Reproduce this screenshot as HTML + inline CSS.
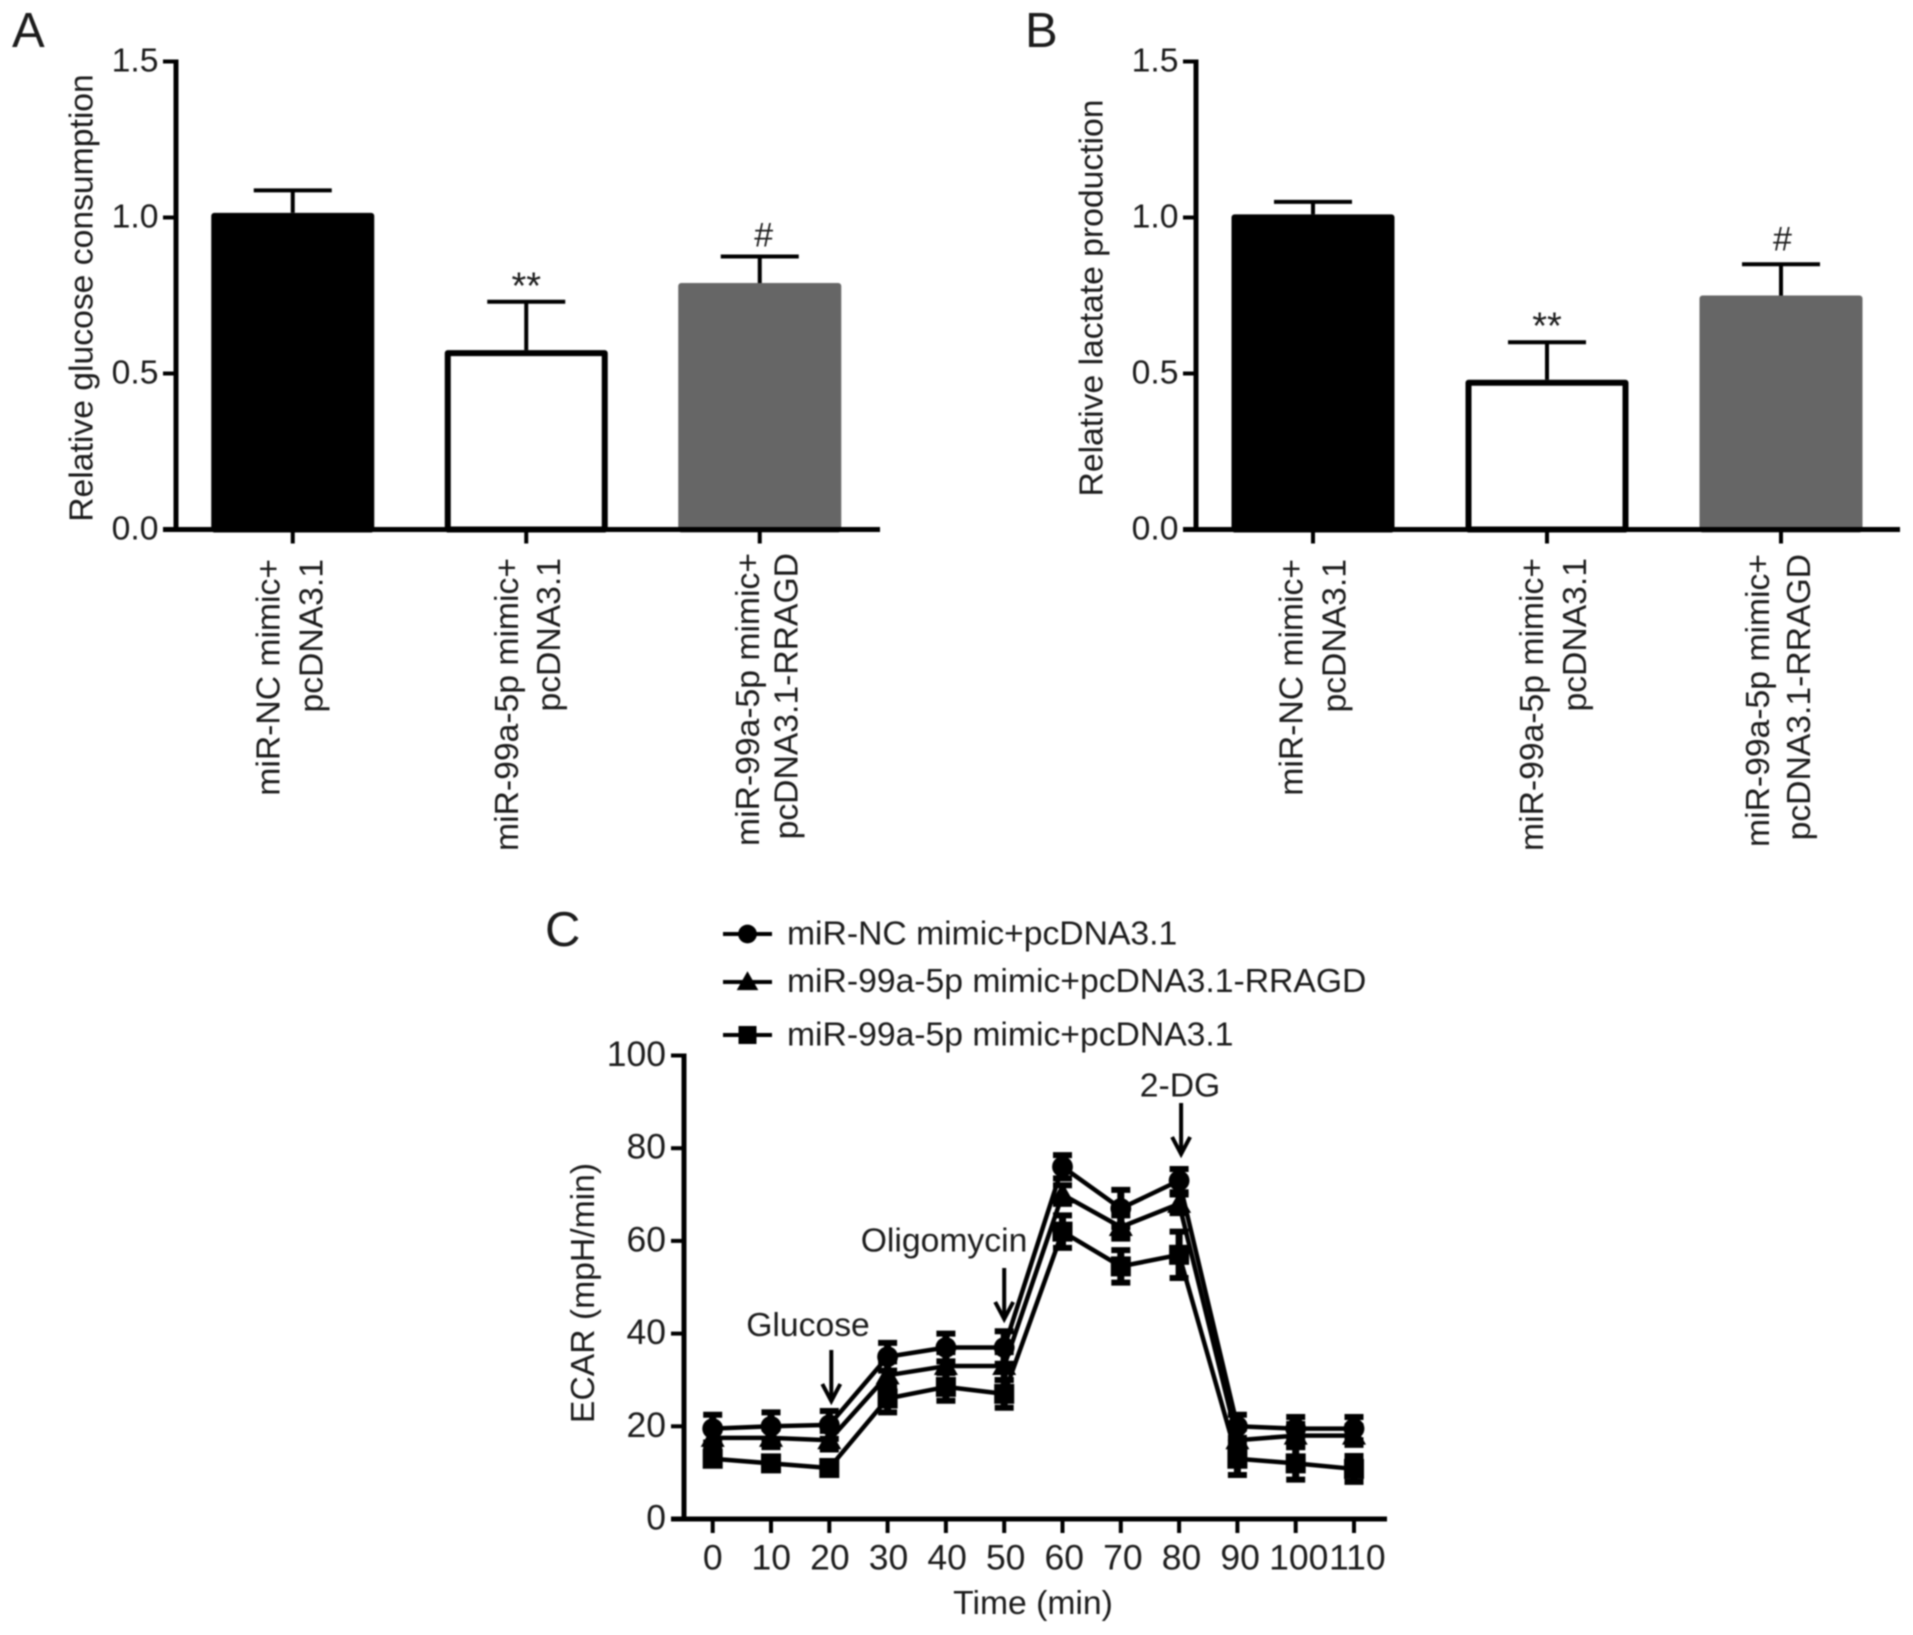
<!DOCTYPE html>
<html lang="en">
<head>
<meta charset="utf-8">
<title>Glycolysis charts</title>
<style>
html,body{margin:0;padding:0;background:#fff;}
body{width:1913px;height:1635px;overflow:hidden;}
svg{display:block;filter:blur(0.7px);}
text{font-family:"Liberation Sans",Arial,sans-serif;font-size:33.7px;fill:#1c1c1c;}
.big{font-size:49px;}
</style>
</head>
<body>
<svg id="figure" xmlns="http://www.w3.org/2000/svg" width="1913" height="1635" viewBox="0 0 1913 1635">
<rect x="0" y="0" width="1913" height="1635" fill="#fff"/>
<text class="big" x="12" y="47">A</text>
<text class="big" x="1025" y="47">B</text>
<text class="big" x="545" y="946">C</text>
<text transform="translate(92.5,298) rotate(-90)" text-anchor="middle">Relative glucose consumption</text>
<text transform="translate(1102.5,298) rotate(-90)" text-anchor="middle">Relative lactate production</text>
<text transform="translate(594,1293) rotate(-90)" text-anchor="middle">ECAR (mpH/min)</text>
<text x="1033" y="1614" text-anchor="middle">Time (min)</text>
<text x="808" y="1336" text-anchor="middle">Glucose</text>
<text x="944" y="1251.5" text-anchor="middle">Oligomycin</text>
<text x="1180" y="1096.5" text-anchor="middle">2-DG</text>
<g id="a"></g>
<g id="b"></g>
<g id="c"></g>
</svg>
<script>
// Bar chart data
var barTicks = [0, 0.5, 1, 1.5];
var categoryLine1 = ["miR-NC mimic+", "miR-99a-5p mimic+", "miR-99a-5p mimic+"];
var categoryLine2 = ["pcDNA3.1", "pcDNA3.1", "pcDNA3.1-RRAGD"];
var glucoseValues = [1.015, 0.575, 0.79];
var glucoseErrors = [0.072, 0.155, 0.085];
var lactateValues = [1.01, 0.48, 0.75];
var lactateErrors = [0.04, 0.12, 0.10];
var significance = ["", "**", "#"];
// Line chart data
var timePoints = [0, 10, 20, 30, 40, 50, 60, 70, 80, 90, 100, 110];
var ecarTicks = [0, 20, 40, 60, 80, 100];
var nmValues = [19.5, 20, 20.3, 35, 37, 37, 76, 67, 73, 20, 19.5, 19.5];
var nmErrors = [3, 3, 3, 3, 3, 3.5, 2.5, 4, 2.5, 2.5, 2.5, 2.5];
var rragdValues = [17.5, 17.5, 17, 31, 33, 33, 70, 63, 68, 17, 18, 18];
var rragdErrors = [2, 2, 2, 3, 3, 3, 2, 2.5, 2, 2.5, 2.5, 2];
var mimicValues = [13, 12, 11, 26, 28.5, 27, 62, 54.5, 57, 13, 12, 10.8];
var mimicErrors = [1, 1, 1, 3, 3, 3, 3.5, 3.5, 5, 3.5, 3.5, 2.8];
var legendLabels = ["miR-NC mimic+pcDNA3.1", "miR-99a-5p mimic+pcDNA3.1-RRAGD", "miR-99a-5p mimic+pcDNA3.1"];

var NS = "http://www.w3.org/2000/svg";
function make(tag, parent, attrs, txt) {
  var n = document.createElementNS(NS, tag);
  for (var k in attrs) n.setAttribute(k, attrs[k]);
  if (txt !== undefined) n.textContent = txt;
  parent.appendChild(n);
  return n;
}
function seg(parent, x1, y1, x2, y2, w) {
  return make("line", parent, {x1: x1, y1: y1, x2: x2, y2: y2, stroke: "#000", "stroke-width": w || 4});
}

function barPanel(root, left, right, step, values, errors, line1Offset, lineGap, labelEnd, sigY, sigDx) {
  var y0 = 529.5, unit = 312;
  function yScale(v) { return y0 - v * unit; }
  function xScale(i) { return left + (i + 0.5) * step; }
  var el;
  var fills = ["#000", "#fff", "#666"];
  values.forEach(function (v, i) {
    var cx = xScale(i), hw = 81.5;
    el = seg(root, cx, yScale(v), cx, yScale(v + errors[i]));
    
    
    el = seg(root, cx - 39, yScale(v + errors[i]), cx + 39, yScale(v + errors[i]));
    
    
    el = make("rect", root, {x: cx - hw + 3, y: yScale(v) + 3, width: 2 * hw - 6, height: y0 - yScale(v) - 3,
      fill: fills[i], stroke: i === 1 ? "#000" : fills[i], "stroke-width": 6, "stroke-linejoin": "round"});
    
    
    if (significance[i]) {
      el = make("text", root, {x: cx + sigDx[i], y: yScale(v + errors[i]) - sigY[i], "text-anchor": "middle", style: i === 1 ? "font-size:38px" : "font-size:34px"}, significance[i]);
      
      
    }
    el = seg(root, cx, y0, cx, y0 + 14);
    
    
    el = make("text", root, {transform: "translate(" + (cx + line1Offset[i]) + "," + labelEnd[i] + ") rotate(-90)", "text-anchor": "end"}, categoryLine1[i]);
    
    
    el = make("text", root, {transform: "translate(" + (cx + line1Offset[i] + lineGap[i]) + "," + labelEnd[i] + ") rotate(-90)", "text-anchor": "end"}, categoryLine2[i]);
    
    
  });
  barTicks.forEach(function (t) {
    el = seg(root, left - 13, yScale(t), left, yScale(t));
    
    
    el = make("text", root, {x: left - 17.5, y: yScale(t) + 10, "text-anchor": "end"}, t.toFixed(1));
    
    
  });
  el = seg(root, left, yScale(1.5) - 2, left, y0 + 2, 5);
  
  
  el = seg(root, left - 13, y0, right, y0, 5);
  
  
}
barPanel(document.getElementById("a"), 176, 880, 233.5, glucoseValues, glucoseErrors, [-13.5, -8.5, -1], [43, 42, 38.5], [559, 558, 553], [0, 3, 10], [0, 0, 4]);
barPanel(document.getElementById("b"), 1196, 1900, 234, lactateValues, lactateErrors, [-10.4, -4.2, -12.2], [43, 43, 41], [559, 558, 554], [0, 4, 14], [0, 0, 1.5]);

// Panel C
var c = document.getElementById("c");
function xTime(t) { return 712.7 + t * 5.83; }
function yEcar(v) { return 1519 - v * 4.635; }
var cEl;
function marker(kind, parent, x, y, s) {
  if (kind === 0) return make("circle", parent, {cx: x, cy: y, r: s * 0.52, fill: "#000"});
  if (kind === 1) return make("polygon", parent, {points: (x) + "," + (y - s * 0.6) + " " + (x + s * 0.6) + "," + (y + s * 0.45) + " " + (x - s * 0.6) + "," + (y + s * 0.45), fill: "#000"});
  return make("rect", parent, {x: x - s / 2, y: y - s / 2, width: s, height: s, fill: "#000"});
}
[mimicValues, rragdValues, nmValues].forEach(function (vals, idx) {
  var errs = [mimicErrors, rragdErrors, nmErrors][idx];
  var kind = [2, 1, 0][idx];
  var pts = vals.map(function (v, i) { return xTime(timePoints[i]) + "," + yEcar(v); }).join(" ");
  cEl = make("polyline", c, {points: pts, fill: "none", stroke: "#000", "stroke-width": 4.5, "stroke-linejoin": "round"});
  
  
  vals.forEach(function (v, i) {
    var x = xTime(timePoints[i]);
    var hi = yEcar(v + errs[i]), lo = yEcar(v - errs[i]);
    cEl = seg(c, x, hi, x, lo, 7);
    
    
    cEl = seg(c, x - 9.5, hi, x + 9.5, hi, 6);
    
    
    cEl = seg(c, x - 9.5, lo, x + 9.5, lo, 6);
    
    
    cEl = marker(kind, c, x, yEcar(v), 20);
    
    
  });
});
timePoints.forEach(function (t) {
  cEl = seg(c, xTime(t), 1519, xTime(t), 1533, 4);
  
  
  cEl = make("text", c, {x: xTime(t) + t * 0.03, y: 1569.5, "text-anchor": "middle", style: "font-size:35.5px"}, String(t));
  
  
});
ecarTicks.forEach(function (t) {
  cEl = seg(c, 671, yEcar(t), 684, yEcar(t), 4);
  
  
  cEl = make("text", c, {x: 666, y: yEcar(t) + 10.5, "text-anchor": "end", style: "font-size:35.5px"}, String(t));
  
  
});
cEl = seg(c, 684, yEcar(100) - 2, 684, 1521, 5);


cEl = seg(c, 671, 1519, 1387, 1519, 5);



// Legend
var legendY = [934, 982, 1035];
var legendTextY = [944.5, 992, 1045.5];
legendLabels.forEach(function (lab, i) {
  cEl = seg(c, 723, legendY[i], 772, legendY[i], 4);
  
  
  cEl = marker([0, 1, 2][i], c, 747.5, legendY[i], 18);
  
  
  cEl = make("text", c, {x: 787, y: legendTextY[i]}, lab);
  
  
});

// Treatment arrows
var arrowTimes = [20, 50, 80];
var arrowTops = [1350, 1268, 1103];
var arrowShift = [2, 0, 2];
arrowTimes.forEach(function (t, i) {
  var x = xTime(t) + arrowShift[i], top = arrowTops[i], tip = top + 51;
  cEl = seg(c, x, top, x, tip - 3, 4);
  
  
  cEl = make("polyline", c, {points: (x - 9) + "," + (tip - 17) + " " + x + "," + tip + " " + (x + 9) + "," + (tip - 17), fill: "none", stroke: "#000", "stroke-width": 4});
  
  
});
</script>
</body>
</html>
